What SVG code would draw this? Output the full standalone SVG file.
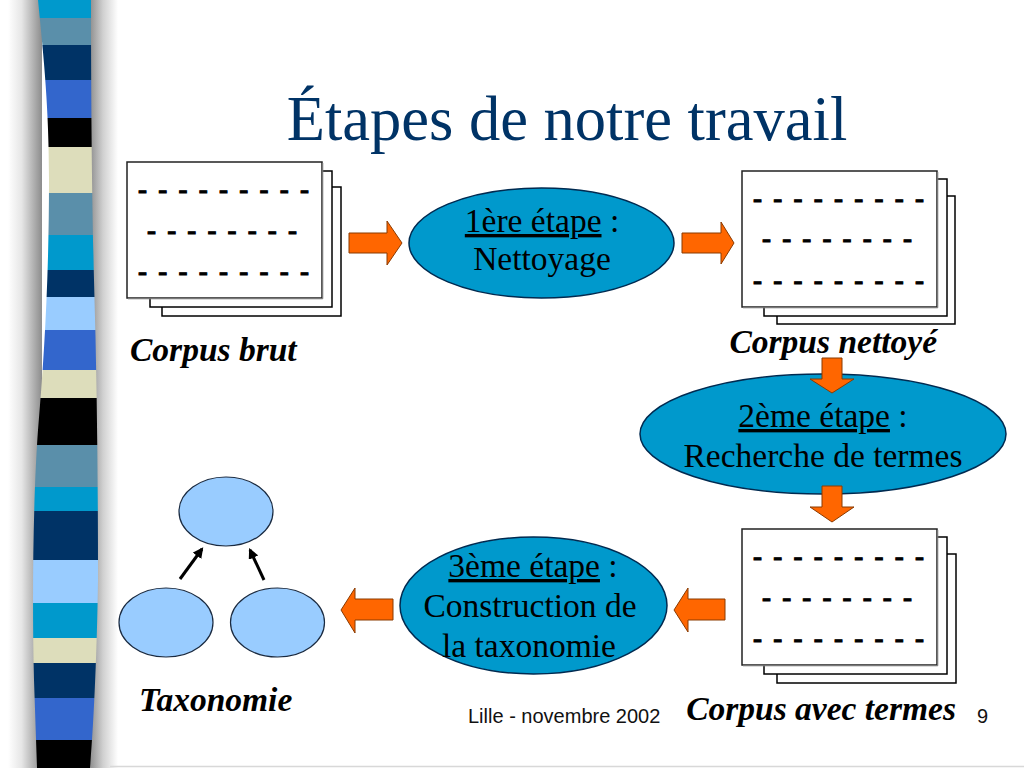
<svg xmlns="http://www.w3.org/2000/svg" width="1024" height="768" viewBox="0 0 1024 768">
<defs>
<style>
.sheet{fill:#fff;stroke:#000;stroke-width:1.5}
.front{fill:#fff;stroke:#222;stroke-width:1.5}
.dash{font-family:"Liberation Serif","Times New Roman",serif;font-weight:bold;font-size:27px;fill:#000;stroke:#000;stroke-width:1}
.blk{fill:#FF6600;stroke:#8a3a00;stroke-width:1}
.step{fill:#0099CC;stroke:#002a50;stroke-width:1.5}
.steptxt{font-family:"Liberation Serif","Times New Roman",serif;font-size:33.5px;fill:#000;text-anchor:middle}
.lbl{font-family:"Liberation Serif","Times New Roman",serif;font-size:33.5px;font-weight:bold;font-style:italic;fill:#000}
.tax{fill:#99CCFF;stroke:#1a2a40;stroke-width:1.2}
.foot{font-family:"Liberation Sans",Arial,sans-serif;font-size:20px;fill:#111}
</style>
<linearGradient id="shL" x1="0" x2="1" y1="0" y2="0">
<stop offset="0" stop-color="#fff"/><stop offset="0.4" stop-color="#e6e6e6"/><stop offset="1" stop-color="#8c8c8c"/>
</linearGradient>
<linearGradient id="shR" x1="0" x2="1" y1="0" y2="0">
<stop offset="0" stop-color="#858585"/><stop offset="0.5" stop-color="#d0d0d0"/><stop offset="1" stop-color="#fff"/>
</linearGradient>
<clipPath id="ribbon">
<path d="M38,0 C44,60 49,110 49,180 C49,280 44,360 38,430 C33,500 32,600 34,680 L37,768 L90,768 C94,720 97,650 98,580 C98,480 97,380 94,280 C92,200 91,100 91,0 Z"/>
</clipPath>
<marker id="ah" viewBox="0 0 10 10" refX="8" refY="5" markerWidth="3.5" markerHeight="3.5" orient="auto" markerUnits="strokeWidth">
<path d="M0,0 L10,5 L0,10 Z" fill="#000"/>
</marker>
</defs>
<rect width="1024" height="768" fill="#fff"/>
<g id="side-bar">
<rect x="8" y="0" width="34" height="768" fill="url(#shL)"/>
<rect x="88" y="0" width="30" height="768" fill="url(#shR)"/>
<g clip-path="url(#ribbon)">
<rect x="20" y="0" width="90" height="18" fill="#0099CC"/>
<rect x="20" y="18" width="90" height="27" fill="#5A8FAA"/>
<rect x="20" y="45" width="90" height="35" fill="#003366"/>
<rect x="20" y="80" width="90" height="38" fill="#3366CC"/>
<rect x="20" y="118" width="90" height="29" fill="#000"/>
<rect x="20" y="147" width="90" height="46" fill="#DDDDBB"/>
<rect x="20" y="193" width="90" height="42" fill="#5A8FAA"/>
<rect x="20" y="235" width="90" height="35" fill="#0099CC"/>
<rect x="20" y="270" width="90" height="27" fill="#003366"/>
<rect x="20" y="297" width="90" height="33" fill="#99CCFF"/>
<rect x="20" y="330" width="90" height="40" fill="#3366CC"/>
<rect x="20" y="370" width="90" height="28" fill="#DDDDBB"/>
<rect x="20" y="398" width="90" height="47" fill="#000"/>
<rect x="20" y="445" width="90" height="42" fill="#5A8FAA"/>
<rect x="20" y="487" width="90" height="24" fill="#0099CC"/>
<rect x="20" y="511" width="90" height="49" fill="#003366"/>
<rect x="20" y="560" width="90" height="43" fill="#99CCFF"/>
<rect x="20" y="603" width="90" height="35" fill="#0099CC"/>
<rect x="20" y="638" width="90" height="25" fill="#DDDDBB"/>
<rect x="20" y="663" width="90" height="35" fill="#003366"/>
<rect x="20" y="698" width="90" height="42" fill="#3366CC"/>
<rect x="20" y="740" width="90" height="28" fill="#000"/>
</g>
</g>
<line x1="110" y1="766.5" x2="1024" y2="766.5" stroke="#d8d8d8" stroke-width="1.5"/>
<text id="title" x="567" y="140" text-anchor="middle" font-family="'Liberation Serif','Times New Roman',serif" font-size="62.5" fill="#003366">Étapes de notre travail</text>

<g id="corpus-brut">
<rect class="sheet" x="162" y="187" width="179" height="129"/>
<rect class="sheet" x="150" y="171" width="182" height="136"/>
<rect class="front" x="127" y="162" width="195" height="136"/>
<path d="M322.8,163 V298.8 H128" fill="none" stroke="#888" stroke-width="1"/>
<text class="dash" x="138" y="198" textLength="171" lengthAdjust="spacing">- - - - - - - - -</text>
<text class="dash" x="147" y="239" textLength="150" lengthAdjust="spacing">- - - - - - - -</text>
<text class="dash" x="138" y="280" textLength="171" lengthAdjust="spacing">- - - - - - - - -</text>
<text class="lbl" x="130" y="361">Corpus brut</text>
</g>

<g id="corpus-nettoye">
<rect class="sheet" x="777" y="196" width="178" height="128"/>
<rect class="sheet" x="764" y="179" width="183" height="137"/>
<rect class="front" x="742" y="171" width="195" height="136"/>
<path d="M937.8,172 V307.8 H743" fill="none" stroke="#888" stroke-width="1"/>
<text class="dash" x="753" y="207" textLength="171" lengthAdjust="spacing">- - - - - - - - -</text>
<text class="dash" x="762" y="247" textLength="150" lengthAdjust="spacing">- - - - - - - -</text>
<text class="dash" x="753" y="289" textLength="171" lengthAdjust="spacing">- - - - - - - - -</text>
<text class="lbl" x="937" y="353" text-anchor="end">Corpus nettoyé</text>
</g>

<g id="corpus-termes">
<rect class="sheet" x="777" y="554" width="179" height="129"/>
<rect class="sheet" x="764" y="537" width="183" height="137"/>
<rect class="front" x="742" y="529" width="195" height="136"/>
<path d="M937.8,530 V665.8 H743" fill="none" stroke="#888" stroke-width="1"/>
<text class="dash" x="753" y="565" textLength="171" lengthAdjust="spacing">- - - - - - - - -</text>
<text class="dash" x="762" y="606" textLength="150" lengthAdjust="spacing">- - - - - - - -</text>
<text class="dash" x="753" y="647" textLength="171" lengthAdjust="spacing">- - - - - - - - -</text>
<text class="lbl" x="956" y="720" text-anchor="end">Corpus avec termes</text>
</g>

<g id="etape1">
<ellipse class="step" cx="541.5" cy="243" rx="132.5" ry="55"/>
<text class="steptxt" x="542" y="232"><tspan text-decoration="underline">1ère étape</tspan> :</text>
<text class="steptxt" x="542" y="270">Nettoyage</text>
</g>

<g id="etape2">
<ellipse class="step" cx="823" cy="434" rx="183" ry="60"/>
<text class="steptxt" x="823" y="427"><tspan text-decoration="underline">2ème étape</tspan> :</text>
<text class="steptxt" x="823" y="467">Recherche de termes</text>
</g>

<g id="etape3">
<ellipse class="step" cx="533.5" cy="605.5" rx="133.5" ry="68.5"/>
<text class="steptxt" x="533" y="577"><tspan text-decoration="underline">3ème étape</tspan> :</text>
<text class="steptxt" x="530" y="617">Construction de</text>
<text class="steptxt" x="529" y="657">la taxonomie</text>
</g>

<g id="taxonomie">
<ellipse class="tax" cx="226" cy="511.5" rx="47" ry="34.5"/>
<ellipse class="tax" cx="166" cy="622.5" rx="47" ry="34.5"/>
<ellipse class="tax" cx="277.5" cy="622.5" rx="47" ry="34.5"/>
<line x1="180" y1="579" x2="202" y2="549" stroke="#000" stroke-width="3" marker-end="url(#ah)"/>
<line x1="264" y1="580" x2="250" y2="550" stroke="#000" stroke-width="3" marker-end="url(#ah)"/>
<text class="lbl" x="139" y="711">Taxonomie</text>
</g>

<g id="connectors">
<path class="blk" d="M349,233 H387 V221 L402,243 L387,265 V253 H349 Z"/>
<path class="blk" d="M682,233 H721 V222 L734,243 L721,264 V253 H682 Z"/>
<path class="blk" d="M822,358 H842 V379 H854 L832,393 L810,379 H822 Z"/>
<path class="blk" d="M822,486 H842 V507 H854 L832,522 L810,507 H822 Z"/>
<path class="blk" d="M725,599 H688 V588 L674,610 L688,632 V620 H725 Z"/>
<path class="blk" d="M393,599 H355 V588 L341,610 L355,633 V620 H393 Z"/>
</g>

<g id="footer">
<text class="foot" x="468" y="723">Lille - novembre 2002</text>
<text class="foot" x="977" y="723">9</text>
</g>
</svg>
